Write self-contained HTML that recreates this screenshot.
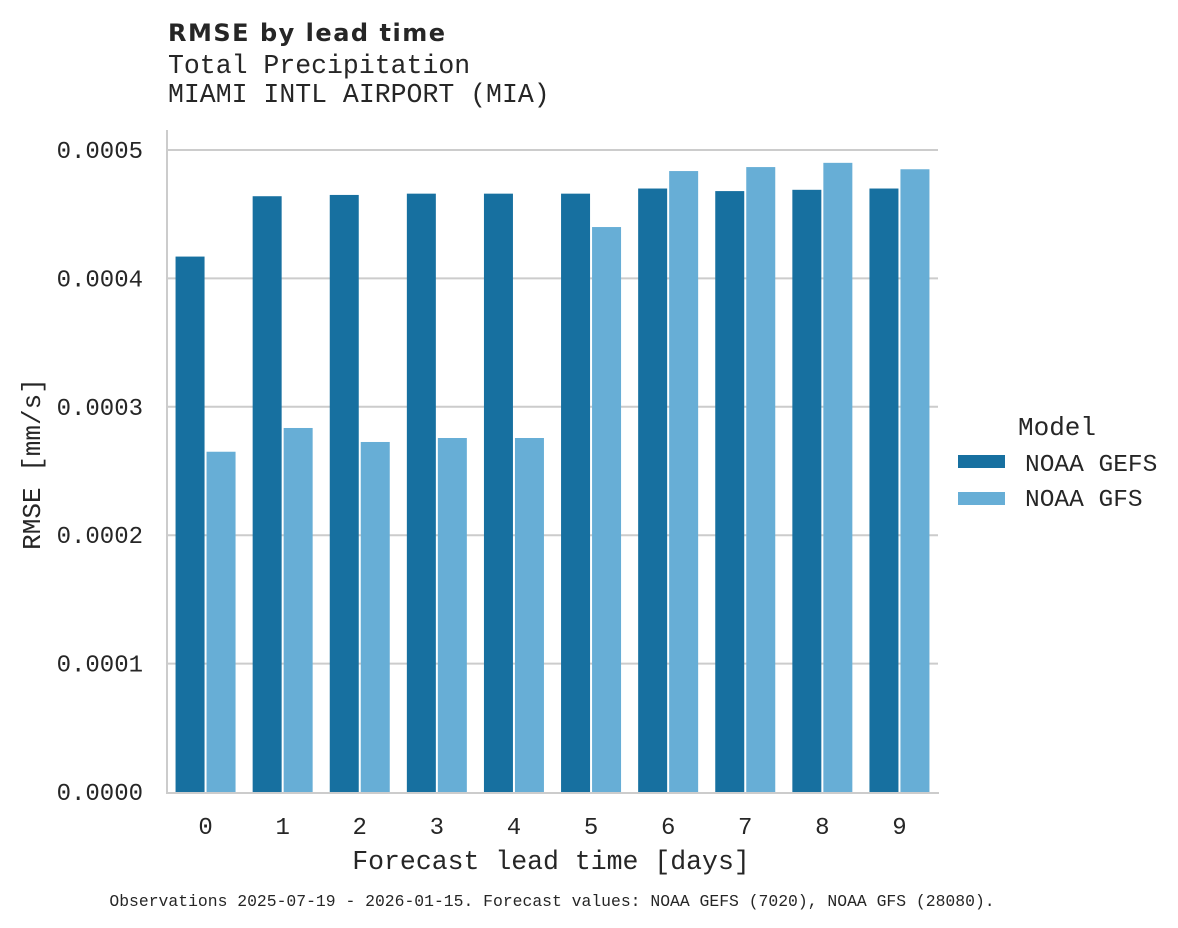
<!DOCTYPE html>
<html><head><meta charset="utf-8"><style>
html,body{margin:0;padding:0;background:#fff;}
svg{display:block;}
text{fill:#262626;}
.mono{font-family:"Liberation Mono","DejaVu Sans Mono",monospace;}
</style></head><body>
<svg id="chart" width="1178" height="928" viewBox="0 0 1178 928">
<text x="168" y="41" font-family="DejaVu Sans, Liberation Sans, sans-serif" font-weight="bold" font-size="24" textLength="277">RMSE by lead time</text>
<text class="mono" x="168" y="73" font-size="26.5">Total Precipitation</text>
<text class="mono" x="168" y="102" font-size="26.5">MIAMI INTL AIRPORT (MIA)</text>
<g id="grid"></g>
<g id="bars"></g>
<line x1="167" y1="130" x2="167" y2="793" stroke="#cccccc" stroke-width="2"/>
<line x1="166" y1="793" x2="939" y2="793" stroke="#cccccc" stroke-width="2"/>
<g id="yticks"></g>
<g id="xticks"></g>
<text class="mono" x="551" y="869" font-size="26.5" text-anchor="middle">Forecast lead time [days]</text>
<text class="mono" x="40" y="464" font-size="26" text-anchor="middle" transform="rotate(-90 40 464)">RMSE [mm/s]</text>
<g>
<text class="mono" x="1057" y="435" font-size="26" text-anchor="middle">Model</text>
<g><rect x="958" y="455" width="47" height="13" fill="#1770a0"/><text class="mono" x="1025" y="471" font-size="24.5">NOAA GEFS</text></g>
<g><rect x="958" y="492" width="47" height="13" fill="#67aed6"/><text class="mono" x="1025" y="506" font-size="24.5">NOAA GFS</text></g>
</g>
<text class="mono" x="552" y="906" font-size="16.4" text-anchor="middle">Observations 2025-07-19 - 2026-01-15. Forecast values: NOAA GEFS (7020), NOAA GFS (28080).</text>
</svg>
<script>
const categories = ["0","1","2","3","4","5","6","7","8","9"];
const gefsValues = [0.000417,0.000464,0.000465,0.000466,0.000466,0.000466,0.000470,0.000468,0.000469,0.000470];
const gfsValues = [0.000265,0.0002835,0.0002726,0.0002757,0.0002757,0.000440,0.0004836,0.0004867,0.000490,0.000485];
const yTicks = [0,0.0001,0.0002,0.0003,0.0004,0.0005];
const yTickLabels = ["0.0000","0.0001","0.0002","0.0003","0.0004","0.0005"];
const NS="http://www.w3.org/2000/svg";
const x0=167,x1=938,y0=792,yTop=150,vMax=0.0005;
const y=v=>y0-(v/vMax)*(y0-yTop);
const band=(x1-x0)/categories.length;
const xc=i=>x0+band*(i+0.5);
function mk(tag,attrs,parent){const e=document.createElementNS(NS,tag);for(const k in attrs)e.setAttribute(k,attrs[k]);parent.appendChild(e);return e;}
const grid=document.getElementById('grid'),bars=document.getElementById('bars'),yt=document.getElementById('yticks'),xt=document.getElementById('xticks');
yTicks.forEach((t,i)=>{
 if(t>0){const l=mk('line',{x1:x0,x2:x1,y1:y(t),y2:y(t),stroke:'#cccccc','stroke-width':2},grid);
 
 }
 const tx=mk('text',{x:143,y:y(t)+8,'font-size':24,'text-anchor':'end',class:'mono'},yt);
 tx.textContent=yTickLabels[i];
 
 
});
const bw=29;
categories.forEach((c,i)=>{
 const cx=xc(i);
 const a=mk('rect',{x:cx-bw-1,y:y(gefsValues[i]),width:bw,height:y0-y(gefsValues[i]),fill:'#1770a0'},bars);
 
 
 const b=mk('rect',{x:cx+1,y:y(gfsValues[i]),width:bw,height:y0-y(gfsValues[i]),fill:'#67aed6'},bars);
 
 
 const tx=mk('text',{x:cx,y:834,'font-size':24,'text-anchor':'middle',class:'mono'},xt);
 tx.textContent=c;
 
 
});
</script>
</body></html>
